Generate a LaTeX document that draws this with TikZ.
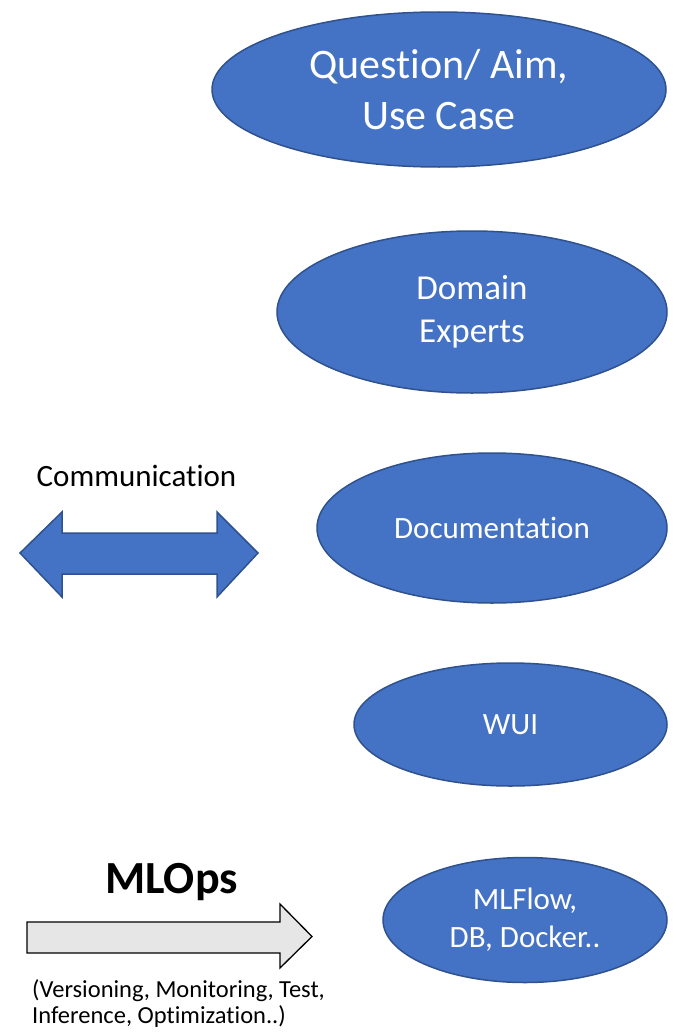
\documentclass[tikz,border=0pt]{standalone}
\usepackage{fontspec}
\setmainfont[Ligatures=NoCommon]{Carlito}
\usetikzlibrary{shapes.geometric}

\definecolor{bubble_fill}{HTML}{4472C4}
\definecolor{bubble_edge}{HTML}{2F528F}
\definecolor{arrow_grey}{HTML}{E7E6E6}

\begin{document}
\begin{tikzpicture}[x=1pt,y=-1pt]
        \tikzstyle{bubble_style} = [ellipse,draw=bubble_edge,fill=bubble_fill,line width=1.5pt,text=white,inner sep=0pt,align=center]
        \tikzstyle{label_style} = [inner sep=0pt,anchor=base]
        \useasboundingbox (0,0) rectangle (676,1033);

        \node[bubble_style,minimum width=454pt,minimum height=155pt,font=\fontsize{42}{51}\selectfont] (aim) at (439,89.5)
          {Question/ Aim,\\ Use Case};
        \node[bubble_style,minimum width=390pt,minimum height=162pt,font=\fontsize{35}{43.5}\selectfont] (experts) at (472,312)
          {Domain\\ Experts};
        \node[bubble_style,minimum width=350pt,minimum height=150pt,font=\fontsize{31}{38}\selectfont] (docs) at (492,528)
          {Documentation};
        \node[bubble_style,minimum width=313pt,minimum height=123pt,font=\fontsize{31}{38}\selectfont] (wui) at (510.5,724.5)
          {WUI};
        \node[bubble_style,minimum width=284pt,minimum height=125pt,font=\fontsize{31}{38}\selectfont] (mlflow) at (525,920)
          {MLFlow,\\ DB, Docker..};

        \node[label_style,font=\fontsize{31}{38}\selectfont] (comm) at (136.5,486.7) {Communication};
        \draw[draw=bubble_edge,fill=bubble_fill,line width=1.5pt,line join=miter]
          (20,553) -- (62,512) -- (62,533) -- (217,533) -- (217,512) -- (258,553)
          -- (217,597) -- (217,574) -- (62,574) -- (62,597) -- cycle;

        \node[label_style,font=\fontsize{46}{54}\selectfont\bfseries] (mlops) at (171.5,893) {MLOps};
        \draw[draw=black,fill=arrow_grey,line width=1.3pt,line join=miter]
          (27,922) -- (280,922) -- (280,904) -- (312,936.5) -- (280,968)
          -- (280,953) -- (27,953) -- cycle;
        \node[inner sep=0pt,anchor=north west,align=left,font=\fontsize{24.5}{26.5}\selectfont] (steps) at (32,979)
          {(Versioning, Monitoring, Test,\\ Inference, Optimization..)};
      \end{tikzpicture}
\end{document}
